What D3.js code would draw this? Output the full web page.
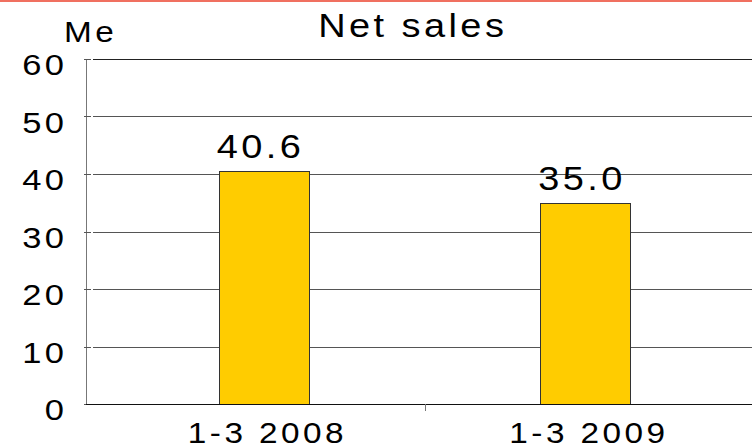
<!DOCTYPE html>
<html>
<head>
<meta charset="utf-8">
<script src="https://cdn.jsdelivr.net/npm/d3@7"></script>
<style>
  html, body { margin: 0; padding: 0; background: #fff; }
  svg { display: block; }
  text { font-family: "Liberation Sans", Arial, sans-serif; fill: #000; }
</style>
</head>
<body>
<svg id="chart" width="752" height="448"></svg>
<script>
// Net sales by quarter (Me)
const categories = ["1-3 2008", "1-3 2009"];
const netSales = [40.6, 35.0];
const valueLabels = ["40.6", "35.0"];
const yTicks = [0, 10, 20, 30, 40, 50, 60];

const W = 752, H = 448;
const LS = 3;        // letter spacing
const STRETCH = 1.15; // labels are set in a slightly widened face

const svg = d3.select("#chart");

// place a widened label; anchor is start / middle / end
function label(parent, x, y, txt, size, anchor) {
  const t = parent.append("text")
    .attr("transform", `translate(${x},${y}) scale(${STRETCH},1)`)
    .attr("text-anchor", anchor)
    .attr("font-size", size)
    .attr("letter-spacing", LS)
    .attr("dx", anchor === "middle" ? LS / 2 : anchor === "end" ? LS : 0)
    .text(txt);
  return t;
}

// thin accent rule along the top edge
svg.append("rect").attr("x", 0).attr("y", 0).attr("width", W).attr("height", 2)
  .attr("fill", "#f07060");

const y = d3.scaleLinear().domain([0, 60]).range([404, 59]);
const x = d3.scaleBand().domain(categories).range([103, 746]);
const barW = x.bandwidth() * 0.28;

const axisX = 86.5, gridStart = 93, gridEnd = W;

// horizontal gridlines
svg.append("g").selectAll("line").data(yTicks.filter(t => t > 0)).join("line")
  .attr("x1", gridStart).attr("x2", gridEnd)
  .attr("y1", d => Math.round(y(d)) + 0.5).attr("y2", d => Math.round(y(d)) + 0.5)
  .attr("stroke", d => d === 60 ? "#222" : "#555").attr("stroke-width", 1);

// y axis line and tick marks
svg.append("line").attr("x1", axisX).attr("x2", axisX)
  .attr("y1", Math.round(y(60))).attr("y2", Math.round(y(0)) + 1)
  .attr("stroke", "#777").attr("stroke-width", 1);
svg.append("g").selectAll("line").data(yTicks).join("line")
  .attr("x1", 84).attr("x2", 91)
  .attr("y1", d => Math.round(y(d)) + 0.5).attr("y2", d => Math.round(y(d)) + 0.5)
  .attr("stroke", "#555");

// y tick labels
const yLab = svg.append("g");
yTicks.forEach(d => label(yLab, 64, y(d) + 16, d, 30, "end"));

// bars
svg.append("g").selectAll("rect").data(netSales).join("rect")
  .attr("x", (d, i) => Math.round(x(categories[i]) + x.bandwidth() / 2 - barW / 2) + 0.5)
  .attr("y", d => Math.round(y(d)) + 0.5)
  .attr("width", Math.round(barW))
  .attr("height", d => Math.round(y(0)) - Math.round(y(d)))
  .attr("fill", "#ffcc00")
  .attr("stroke", "#333").attr("stroke-width", 1);

// value labels
const vLab = svg.append("g");
netSales.forEach((d, i) =>
  label(vLab, x(categories[i]) + x.bandwidth() / 2 - 5, y(d) - 13, valueLabels[i], 33, "middle"));

// x axis baseline and category divider tick
svg.append("line").attr("x1", axisX - 0.5).attr("x2", W)
  .attr("y1", Math.round(y(0)) + 0.5).attr("y2", Math.round(y(0)) + 0.5)
  .attr("stroke", "#111");
const divX = Math.round(x(categories[1])) + 0.5;
svg.append("line").attr("x1", divX).attr("x2", divX)
  .attr("y1", Math.round(y(0))).attr("y2", Math.round(y(0)) + 7)
  .attr("stroke", "#777");

// category labels
const cLab = svg.append("g");
categories.forEach(d => label(cLab, x(d) + x.bandwidth() / 2 + 2, 443, d, 29, "middle"));

// title and unit
label(svg, 411, 37, "Net sales", 33, "middle");
label(svg, 64, 42, "Me", 29, "start");
</script>
</body>
</html>
